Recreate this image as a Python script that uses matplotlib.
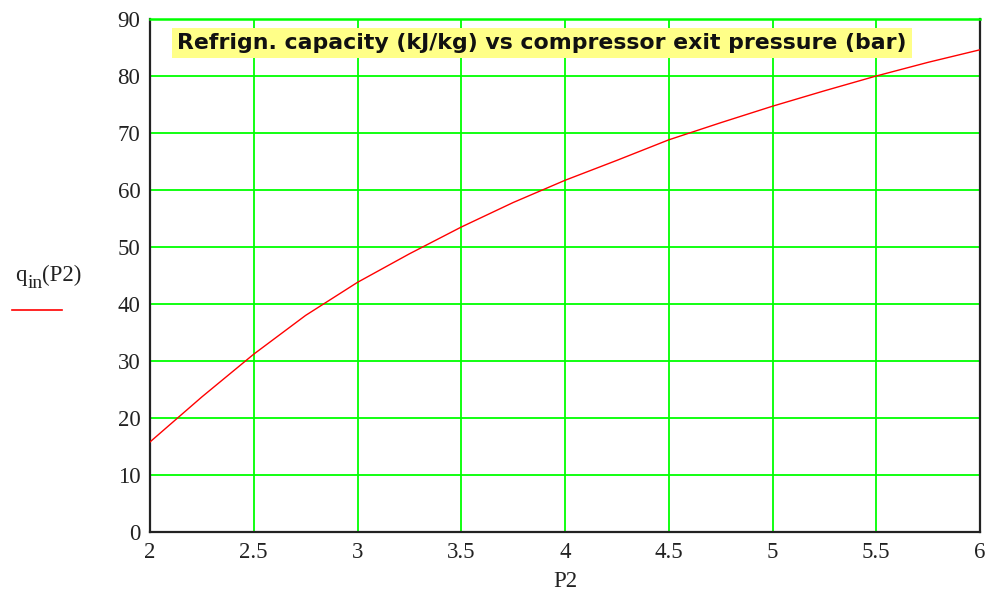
import matplotlib
matplotlib.use("Agg")
import matplotlib.pyplot as plt
from matplotlib.lines import Line2D

# Data
p2 = [2.0, 2.25, 2.5, 2.75, 3.0, 3.25, 3.5, 3.75, 4.0, 4.25, 4.5, 4.75, 5.0, 5.25, 5.5, 5.75, 6.0]
q_in = [15.8, 23.7, 31.2, 38.0, 43.8, 48.8, 53.5, 57.8, 61.7, 65.2, 68.8, 71.8, 74.7, 77.4, 80.0, 82.4, 84.6]
x_ticks = [2, 2.5, 3, 3.5, 4, 4.5, 5, 5.5, 6]
x_tick_labels = ["2", "2.5", "3", "3.5", "4", "4.5", "5", "5.5", "6"]
y_ticks = [0, 10, 20, 30, 40, 50, 60, 70, 80, 90]
title = "Refrign. capacity (kJ/kg) vs compressor exit pressure (bar)"

W, H = 993, 606
fig = plt.figure(figsize=(W / 100, H / 100), dpi=100)
left, right, top, bottom = 150, 980, 19, 532
ax = fig.add_axes([left / W, 1 - bottom / H, (right - left) / W, (bottom - top) / H])

green = '#00FF00'
ax.set_xlim(2, 6)
ax.set_ylim(0, 90)
ax.set_xticks(x_ticks)
ax.set_xticklabels(x_tick_labels)
ax.set_yticks(y_ticks)
ax.grid(True, color=green, linewidth=1.3)
ax.set_axisbelow(True)

ax.plot(p2, q_in, color='#FF0000', linewidth=1.0, zorder=3)

for s in ['left', 'bottom', 'right']:
    ax.spines[s].set_color('#222222')
    ax.spines[s].set_linewidth(1.6)
ax.spines['top'].set_color(green)
ax.spines['top'].set_linewidth(1.8)

tick_color = '#222222'
fs = 16.5
ax.tick_params(axis='both', length=0, labelsize=fs, labelcolor=tick_color)
ax.tick_params(axis='y', pad=7)
ax.tick_params(axis='x', pad=7)
for lab in ax.get_xticklabels() + ax.get_yticklabels():
    lab.set_fontfamily('Liberation Serif')

ax.set_xlabel("P2", fontsize=fs, family='Liberation Serif', color=tick_color, labelpad=6)

ax.text((177 - left) / (right - left), (bottom - 43) / (bottom - top), title,
        transform=ax.transAxes, ha='left', va='center', fontsize=15.8,
        fontweight='bold', family='DejaVu Sans', color='#111111',
        bbox=dict(boxstyle='square,pad=0.25', facecolor='#FFFF88', edgecolor='none'),
        zorder=5)

# Y label "q_in(P2)" built from pieces, with its red legend line underneath
serif = 'Liberation Serif'
fig.text(15 / W, 1 - 281 / H, "q", fontsize=fs, family=serif, color=tick_color,
         ha='left', va='baseline')
fig.text(28 / W, 1 - 288 / H, "in", fontsize=14, family=serif, color=tick_color,
         ha='left', va='baseline')
fig.text(42 / W, 1 - 281 / H, "(P2)", fontsize=fs, family=serif, color=tick_color,
         ha='left', va='baseline')
fig.add_artist(Line2D([12 / W, 62 / W], [1 - 310 / H, 1 - 310 / H],
                      color='#FF0000', linewidth=1.2, transform=fig.transFigure))

fig.savefig("out.png", dpi=100)
